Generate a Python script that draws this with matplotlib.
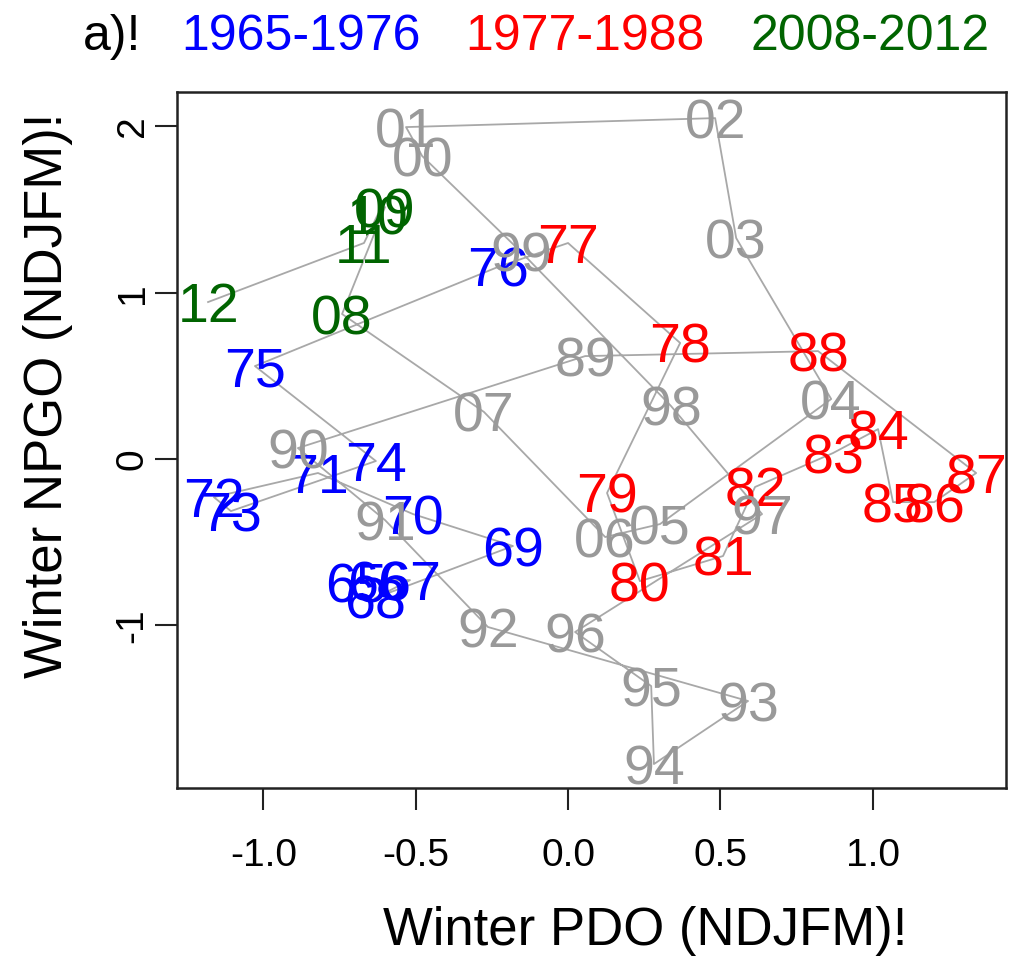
import matplotlib
matplotlib.use("Agg")
import matplotlib.pyplot as plt
from matplotlib import font_manager

# ---- data ----
years = ["65", "66", "67", "68", "69", "70", "71", "72", "73", "74", "75", "76",
         "77", "78", "79", "80", "81", "82", "83", "84", "85", "86", "87", "88",
         "89", "90", "91", "92", "93", "94", "95", "96", "97", "98", "99",
         "00", "01", "02", "03", "04", "05", "06", "07", "08", "09", "10", "11", "12"]
pdo = [-0.696, -0.624, -0.519, -0.634, -0.181, -0.509, -0.821, -1.163, -1.107, -0.631, -1.028, -0.230,
       0.000, 0.368, 0.128, 0.236, 0.509, 0.614, 0.870, 1.018, 1.067, 1.202, 1.340, 0.821,
       0.056, -0.887, -0.601, -0.263, 0.591, 0.282, 0.273, 0.023, 0.637, 0.338, -0.154,
       -0.479, -0.532, 0.483, 0.552, 0.864, 0.302, 0.122, -0.276, -0.742, -0.601, -0.624, -0.670, -1.182]
npgo = [-0.740, -0.728, -0.728, -0.836, -0.523, -0.331, -0.084, -0.229, -0.313, -0.012, 0.559, 1.155,
        1.299, 0.698, -0.204, -0.734, -0.583, -0.168, 0.036, 0.180, -0.259, -0.259, -0.084, 0.649,
        0.619, 0.066, -0.367, -1.010, -1.455, -1.834, -1.365, -1.040, -0.331, 0.319, 1.245,
        1.822, 1.996, 2.050, 1.329, 0.361, -0.391, -0.469, 0.283, 0.872, 1.515, 1.473, 1.299, 0.944]

period_names = ["1965-1976", "1977-1988", "2008-2012"]
period_years = [years[0:12], years[12:24], ["08", "09", "10", "11", "12"]]
period_colors = ["#0000ff", "#ff0000", "#006400"]
other_color = "#999999"

x_ticks = [-1.0, -0.5, 0.0, 0.5, 1.0]
x_ticklabels = ["-1.0", "-0.5", "0.0", "0.5", "1.0"]
y_ticks = [-1, 0, 1, 2]
y_ticklabels = ["-1", "0", "1", "2"]

# ---- fonts ----
names = {f.name for f in font_manager.fontManager.ttflist}
base = "Liberation Sans" if "Liberation Sans" in names else "DejaVu Sans"
narrow = "Liberation Sans Narrow" if "Liberation Sans Narrow" in names else None

W, H, DPI = 1015, 960, 100
fig = plt.figure(figsize=(W / DPI, H / DPI), dpi=DPI)
fig.patch.set_facecolor("white")

L, R, T, B = 177, 1006, 92, 788
ax = fig.add_axes([L / W, 1 - B / H, (R - L) / W, (B - T) / H])
ax.set_xlim(-1.284, 1.438)
ax.set_ylim(-1.978, 2.207)

ax.plot(pdo, npgo, color="#a8a8a8", lw=1.3, zorder=1)

def color_of(y):
    for names_, c in zip(period_years, period_colors):
        if y in names_:
            return c
    return other_color

for yr, xv, yv in zip(years, pdo, npgo):
    ax.text(xv, yv, yr, color=color_of(yr), fontsize=40, family=base,
            ha="center", va="center_baseline", zorder=2)

for s in ax.spines.values():
    s.set_linewidth(1.8)
    s.set_color("#222222")

ax.set_xticks(x_ticks)
ax.set_xticklabels(x_ticklabels, fontsize=28, family=base)
ax.set_yticks(y_ticks)
ax.set_yticklabels(y_ticklabels, fontsize=28, family=base, rotation=90, va="center")
ax.tick_params(axis="both", direction="out", length=16, width=1.5, color="#222222")
ax.tick_params(axis="x", pad=20)
ax.tick_params(axis="y", pad=3)

# axis labels
fig.text(645 / W, 1 - 931 / H, "Winter PDO (NDJFM)!", fontsize=38, family=base,
         ha="center", va="center")
fig.text(48 / W, 1 - 395 / H, "Winter NPGO (NDJFM)!", fontsize=38, family=base,
         ha="center", va="center", rotation=90)

# title row
if narrow:
    tfam, tsize = narrow, 43
else:
    tfam, tsize = base, 36
fig.text(112 / W, 1 - 32 / H, "a)!", fontsize=tsize, family=tfam, color="black",
         ha="center", va="center_baseline")
for name, cx, c in zip(period_names, [301, 585, 870], period_colors):
    fig.text(cx / W, 1 - 32 / H, name, fontsize=tsize, family=tfam, color=c,
             ha="center", va="center_baseline")

fig.savefig("out.png", dpi=DPI, facecolor="white")
